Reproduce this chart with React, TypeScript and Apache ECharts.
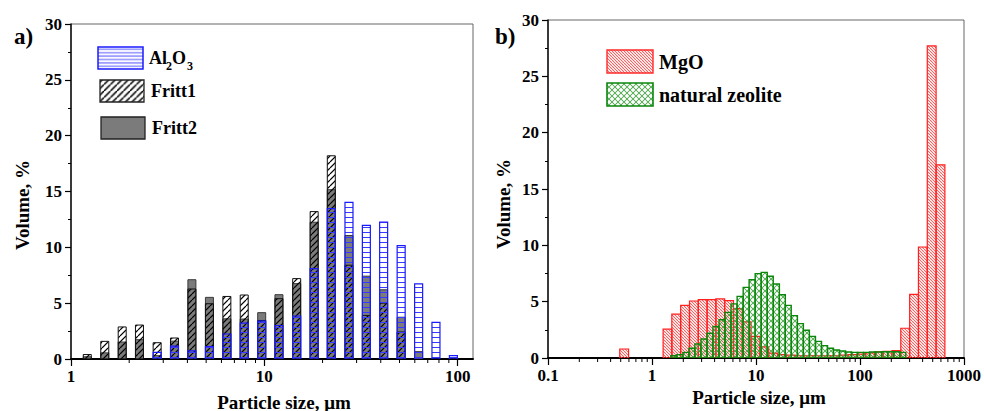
import React, { useEffect, useRef } from 'react';
import * as echarts from 'echarts';

// ---------- Panel a) data ----------
const binsA = [1.214, 1.495, 1.84, 2.26, 2.79, 3.43, 4.22, 5.2, 6.4, 7.87, 9.69, 11.9, 14.7, 18.1, 22.2, 27.4, 33.7, 41.4, 51.0, 62.8, 77.2, 95.0];
const al2o3 = [0, 0, 0, 0, 0.6, 1.15, 0.72, 1.12, 2.24, 3.22, 3.4, 3.0, 3.85, 8.1, 13.46, 14.03, 11.97, 12.27, 10.15, 6.73, 3.28, 0.3];
const fritt1 = [0.4, 1.58, 2.87, 3.04, 1.46, 1.88, 6.27, 4.95, 5.6, 5.73, 3.45, 5.4, 7.2, 13.2, 18.2, 8.4, 3.9, 5.0, 2.42, 0, 0, 0];
const fritt2 = [0.2, 0.55, 1.52, 1.73, 0.3, 1.6, 7.1, 5.52, 3.6, 3.58, 4.15, 5.76, 6.75, 12.25, 15.16, 11.06, 7.42, 6.2, 3.74, 0.66, 0, 0];

// ---------- Panel b) data ----------
const mgoSize = [0.54, 1.41, 1.71, 2.08, 2.53, 3.07, 3.74, 4.53, 5.51, 6.7, 8.13, 9.89, 12.0, 14.6, 17.8, 21.6, 26.2, 31.9, 38.7, 47.1, 57.2, 69.5, 84.5, 103, 125, 152, 184, 224, 272, 331, 402, 489, 594];
const mgoVol = [0.8, 2.57, 3.9, 4.67, 5.06, 5.18, 5.18, 5.24, 5.1, 4.38, 3.2, 1.92, 0.98, 0.44, 0.3, 0.25, 0.2, 0.2, 0.2, 0.2, 0.2, 0.25, 0.3, 0.35, 0.45, 0.55, 0.6, 0.65, 2.64, 5.65, 9.85, 27.7, 17.15];
const zeoSize = [1.62, 1.85, 2.12, 2.42, 2.76, 3.16, 3.61, 4.12, 4.72, 5.38, 6.15, 7.04, 8.05, 9.18, 10.5, 12.0, 13.7, 15.7, 17.9, 20.4, 23.4, 26.7, 30.5, 34.9, 39.9, 45.6, 52.0, 59.4, 68.0, 77.6, 88.7, 101, 116, 132, 151, 173, 198, 226, 258];
const zeoVol = [0.2, 0.3, 0.5, 0.86, 1.24, 1.69, 2.2, 2.8, 3.4, 4.05, 4.8, 5.47, 6.27, 6.95, 7.49, 7.6, 7.25, 6.57, 5.62, 4.67, 3.76, 3.05, 2.46, 1.92, 1.48, 1.1, 0.86, 0.71, 0.62, 0.53, 0.5, 0.5, 0.5, 0.53, 0.53, 0.56, 0.56, 0.56, 0.5];

// ---------- axes ----------
const minorTicksA = [2, 3, 4, 5, 6, 7, 8, 9, 20, 30, 40, 50, 60, 70, 80, 90];
const minorTicksB = [0.2, 0.3, 0.4, 0.5, 0.6, 0.7, 0.8, 0.9, 2, 3, 4, 5, 6, 7, 8, 9, 20, 30, 40, 50, 60, 70, 80, 90, 200, 300, 400, 500, 600, 700, 800, 900];

const FONT = '"Liberation Serif", "Times New Roman", serif';

function makePattern(size: number, draw: (ctx: CanvasRenderingContext2D, s: number) => void, bg?: string) {
  const k = 4;
  const c = document.createElement('canvas');
  c.width = Math.round(size * k);
  c.height = Math.round(size * k);
  const ctx = c.getContext('2d')!;
  ctx.scale(c.width / size, c.height / size);
  if (bg) {
    ctx.fillStyle = bg;
    ctx.fillRect(0, 0, size, size);
  }
  draw(ctx, size);
  return { image: c.toDataURL(), repeat: 'repeat', imageWidth: size, imageHeight: size };
}

function diag(color: string, lw: number, dir: 'f' | 'b') {
  return (ctx: CanvasRenderingContext2D, s: number) => {
    ctx.strokeStyle = color;
    ctx.lineWidth = lw;
    ctx.beginPath();
    for (let i = -1; i <= 1; i++) {
      if (dir === 'f') {
        ctx.moveTo(i * s, s);
        ctx.lineTo(i * s + s, 0);
      } else {
        ctx.moveTo(i * s, 0);
        ctx.lineTo(i * s + s, s);
      }
    }
    ctx.stroke();
  };
}

function horiz(color: string, lw: number) {
  return (ctx: CanvasRenderingContext2D, s: number) => {
    ctx.strokeStyle = color;
    ctx.lineWidth = lw;
    ctx.beginPath();
    ctx.moveTo(0, s / 2);
    ctx.lineTo(s, s / 2);
    ctx.stroke();
  };
}

function cross(color: string, lw: number) {
  const f = diag(color, lw, 'f');
  const b = diag(color, lw, 'b');
  return (ctx: CanvasRenderingContext2D, s: number) => {
    f(ctx, s);
    b(ctx, s);
  };
}

export default function App() {
  const ref = useRef<HTMLDivElement>(null);

  useEffect(() => {
    if (!ref.current) return;
    const chart = echarts.init(ref.current, null, { renderer: 'svg' });

    const pAl = makePattern(5, horiz('#3a3aff', 1));
    const pAlLeg = makePattern(3.4, horiz('#3a3aff', 0.9));
    const pF1 = makePattern(6, diag('#000', 1.2, 'f'));
    const pF1Leg = makePattern(6.5, diag('#000', 1.5, 'f'));
    const pMg = makePattern(3, diag('#ff3b3b', 0.8, 'b'));
    const pZe = makePattern(6, cross('#3c9e3c', 0.8));

    const fixedBar = (w: number, fill: any, stroke: string, lw: number) => (params: any, api: any) => {
      const x = api.value(0);
      const y = api.value(1);
      if (!y) return null;
      const b = api.coord([x, 0]);
      const t = api.coord([x, y]);
      return {
        type: 'rect',
        shape: { x: b[0] - w / 2, y: t[1], width: w, height: b[1] - t[1] },
        style: { fill, stroke, lineWidth: lw },
      };
    };

    const logBar = (halfLog: number, fill: any, stroke: string, lw: number) => (params: any, api: any) => {
      const x = api.value(0);
      const y = api.value(1);
      if (!y) return null;
      const f = Math.pow(10, halfLog);
      const l = api.coord([x / f, 0]);
      const r = api.coord([x * f, y]);
      return {
        type: 'rect',
        shape: { x: l[0], y: r[1], width: r[0] - l[0], height: l[1] - r[1] },
        style: { fill, stroke, lineWidth: lw },
      };
    };

    const tickRender = (len: number) => (params: any, api: any) => {
      const p = api.coord([api.value(0), 0]);
      return {
        type: 'line',
        shape: { x1: p[0], y1: p[1] + 1, x2: p[0], y2: p[1] + len },
        style: { stroke: '#000', lineWidth: 1 },
      };
    };

    const labelStyle = { fontFamily: FONT, fontWeight: 'bold' as const, fontSize: 17, color: '#000' };

    const xAxisCommon = {
      type: 'log' as const,
      logBase: 10,
      axisLine: { lineStyle: { color: '#000', width: 2 } },
      axisTick: { inside: false, length: 7, lineStyle: { color: '#000', width: 1.2 } },
      axisLabel: {
        ...labelStyle,
        margin: 9,
        formatter: (v: number) => (v < 1 ? v.toFixed(1) : String(Math.round(v))),
      },
      splitLine: { show: false },
    };
    const yAxisCommon = {
      type: 'value' as const,
      min: 0,
      max: 30,
      interval: 5,
      axisLine: { show: true, lineStyle: { color: '#111', width: 1.5 } },
      axisTick: { show: true, inside: false, length: 6, lineStyle: { color: '#000', width: 1.2 } },
      minorTick: { show: true, splitNumber: 2, length: 3, lineStyle: { color: '#000', width: 1 } },
      axisLabel: { ...labelStyle, margin: 9 },
      splitLine: { show: false },
    };

    const gridStyle = { show: true, borderColor: '#666', borderWidth: 1, backgroundColor: 'transparent' };

    const txt = (x: number, y: number, text: string, size: number, extra: any = {}) => ({
      type: 'text',
      x,
      y,
      style: { text, fontFamily: FONT, fontWeight: 'bold', fontSize: size, fill: '#000', verticalAlign: 'middle', ...extra },
    });

    chart.setOption({
      animation: false,
      grid: [
        { left: 71, top: 24, width: 402, height: 335, ...gridStyle },
        { left: 548, top: 20, width: 419, height: 338, ...gridStyle },
      ],
      xAxis: [
        { ...xAxisCommon, gridIndex: 0, min: 1, max: 120 },
        { ...xAxisCommon, gridIndex: 1, min: 0.1, max: 1000 },
      ],
      yAxis: [
        { ...yAxisCommon, gridIndex: 0 },
        { ...yAxisCommon, gridIndex: 1 },
      ],
      series: [
        {
          type: 'custom', name: 'Fritt2', xAxisIndex: 0, yAxisIndex: 0, clip: true,
          data: binsA.map((x, i) => [x, fritt2[i]]),
          renderItem: fixedBar(8, '#7b7b7b', '#3a3a3a', 1),
        },
        {
          type: 'custom', name: 'Fritt1', xAxisIndex: 0, yAxisIndex: 0, clip: true,
          data: binsA.map((x, i) => [x, fritt1[i]]),
          renderItem: fixedBar(8, pF1, '#111', 1),
        },
        {
          type: 'custom', name: 'Al2O3', xAxisIndex: 0, yAxisIndex: 0, clip: true,
          data: binsA.map((x, i) => [x, al2o3[i]]),
          renderItem: fixedBar(8, pAl, '#1a1aff', 1.2),
        },
        {
          type: 'custom', name: 'minorA', xAxisIndex: 0, yAxisIndex: 0, clip: false, silent: true,
          data: minorTicksA.map((v) => [v, 0]),
          renderItem: tickRender(4),
        },
        {
          type: 'custom', name: 'MgO', xAxisIndex: 1, yAxisIndex: 1, clip: true,
          data: mgoSize.map((x, i) => [x, mgoVol[i]]),
          renderItem: logBar(0.0847 / 2, pMg, '#ff1f1f', 1.2),
        },
        {
          type: 'custom', name: 'natural zeolite', xAxisIndex: 1, yAxisIndex: 1, clip: true,
          data: zeoSize.map((x, i) => [x, zeoVol[i]]),
          renderItem: logBar(0.058 / 2, pZe, '#0b860b', 1.4),
        },
        {
          type: 'custom', name: 'minorB', xAxisIndex: 1, yAxisIndex: 1, clip: false, silent: true,
          data: minorTicksB.map((v) => [v, 0]),
          renderItem: tickRender(4),
        },
      ],
      graphic: [
        txt(14, 36, 'a)', 23),
        txt(495, 36, 'b)', 23),
        txt(284, 402, 'Particle size, \u03bcm', 19, { align: 'center' }),
        txt(759, 397, 'Particle size, \u03bcm', 19, { align: 'center' }),
        { ...txt(22, 205, 'Volume, %', 19, { align: 'center' }), rotation: Math.PI / 2 },
        { ...txt(503, 204, 'Volume, %', 19, { align: 'center' }), rotation: Math.PI / 2 },
        // legend a
        { type: 'rect', shape: { x: 98, y: 47, width: 45, height: 22 }, style: { fill: pAlLeg, stroke: '#1a1aff', lineWidth: 1.5 } },
        txt(149, 58, 'Al', 18),
        txt(166, 66, '2', 12),
        txt(172, 58, 'O', 18),
        txt(187, 66, '3', 12),
        { type: 'rect', shape: { x: 100, y: 80, width: 44, height: 22 }, style: { fill: pF1Leg, stroke: '#222', lineWidth: 1.3 } },
        txt(151, 91, 'Fritt1', 18),
        { type: 'rect', shape: { x: 101, y: 117, width: 44, height: 22 }, style: { fill: '#7b7b7b', stroke: '#222', lineWidth: 1.3 } },
        txt(152, 128, 'Fritt2', 18),
        // legend b
        { type: 'rect', shape: { x: 607, y: 50, width: 46, height: 23 }, style: { fill: pMg, stroke: '#ff2a2a', lineWidth: 1.4 } },
        txt(659, 62, 'MgO', 20),
        { type: 'rect', shape: { x: 607, y: 83, width: 46, height: 23 }, style: { fill: pZe, stroke: '#0b860b', lineWidth: 1.6 } },
        txt(659, 95, 'natural zeolite', 20),
      ],
    });

    return () => chart.dispose();
  }, []);

  return <div ref={ref} style={{ position: 'fixed', left: 0, top: 0, width: 984, height: 411, background: '#fff' }} />;
}
